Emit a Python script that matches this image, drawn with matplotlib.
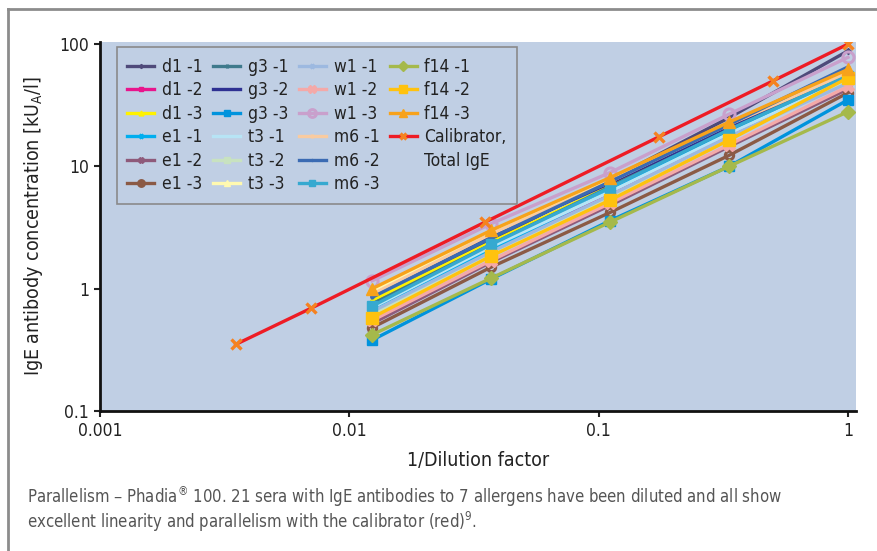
import matplotlib
matplotlib.use("Agg")
import matplotlib.pyplot as plt
from matplotlib.lines import Line2D
from matplotlib.ticker import FixedLocator, FixedFormatter, NullLocator

plt.rcParams['font.family'] = ['DejaVu Sans']
plt.rcParams['font.stretch'] = 'condensed'

# dilution steps of the sera (1/81 ... 1) and of the calibrator
sample_x = [1 / 81, 1 / 27, 1 / 9, 1 / 3, 1]
calib_x = [0.0035, 0.007, 0.035, 0.175, 0.5, 1]
calib_y = [0.35, 0.69, 3.5, 17.5, 50, 100]

labels = ['d1 -1', 'd1 -2', 'd1 -3', 'e1 -1', 'e1 -2', 'e1 -3',
          'g3 -1', 'g3 -2', 'g3 -3', 't3 -1', 't3 -2', 't3 -3',
          'w1 -1', 'w1 -2', 'w1 -3', 'm6 -1', 'm6 -2', 'm6 -3',
          'f14 -1', 'f14 -2', 'f14 -3']

d1_1 = [0.78, 2.5, 7.8, 25, 88]
d1_2 = [0.66, 2.0, 6.0, 18, 50]
d1_3 = [0.80, 2.4, 6.9, 20, 56]
e1_1 = [0.68, 2.1, 6.3, 19, 55]
e1_2 = [0.52, 1.65, 4.8, 14.5, 43]
e1_3 = [0.48, 1.5, 4.2, 12.3, 40]
g3_1 = [0.75, 2.3, 6.8, 20, 57]
g3_2 = [0.87, 2.7, 7.3, 21, 62]
g3_3 = [0.38, 1.2, 3.6, 10, 35]
t3_1 = [0.70, 2.2, 6.2, 18.5, 52]
t3_2 = [0.62, 1.9, 5.7, 17, 50]
t3_3 = [0.95, 2.9, 7.8, 22.5, 60]
w1_1 = [0.65, 2.0, 5.8, 17.5, 48]
w1_2 = [0.55, 1.7, 5.0, 15, 45]
w1_3 = [1.16, 3.4, 8.9, 26.7, 78]
m6_1 = [0.90, 2.8, 7.5, 22, 58]
m6_2 = [0.85, 2.6, 7.5, 22, 65]
m6_3 = [0.72, 2.3, 6.7, 20, 55]
f14_1 = [0.42, 1.22, 3.5, 10, 28]
f14_2 = [0.58, 1.85, 5.3, 16.4, 53]
f14_3 = [1.00, 3.0, 8.1, 23, 62]

series = [d1_1, d1_2, d1_3, e1_1, e1_2, e1_3, g3_1, g3_2, g3_3,
          t3_1, t3_2, t3_3, w1_1, w1_2, w1_3, m6_1, m6_2, m6_3,
          f14_1, f14_2, f14_3]

colors = ['#4f4a7a', '#e8158c', '#fff200', '#00aeef', '#8e5a7a', '#8b5a45',
          '#3f7a8c', '#2e3192', '#0093dd', '#b7e4f5', '#c8e2c0', '#fff9b0',
          '#9db9e0', '#f4a9a8', '#c9a0cc', '#f9cba0', '#3b6bb3', '#36a9d0',
          '#a5b94b', '#ffc20e', '#f7a21b']
# (marker, size, open)
styles = [('D', 3, False), ('s', 4, False), ('^', 5, False), ('x', 5, False),
          ('X', 6, False), ('o', 6, True), ('+', 4, False), ('.', 3, False),
          ('s', 7, False), ('.', 3, False), ('s', 6, False), ('^', 6, False),
          ('x', 4, False), ('X', 8, False), ('o', 8, True), ('+', 4, False),
          ('.', 4, False), ('s', 7, False), ('D', 7, False), ('s', 8, False),
          ('^', 9, False)]

BG = '#c0cfe4'

fig = plt.figure(figsize=(8.78, 5.51), dpi=100)
ax = fig.add_axes([100 / 878, 1 - 411 / 551, 756 / 878, 369 / 551])
ax.set_facecolor(BG)

for vals, lab, col, (mk, ms, hollow) in zip(series, labels, colors, styles):
    ax.plot(sample_x, vals, color=col, lw=2.4, marker=mk, ms=ms,
            mfc='none' if hollow else col, mec=col,
            mew=2.2 if (hollow or mk in 'x+') else 1, label=lab)

ax.plot(calib_x, calib_y, color='#ee1c25', lw=2.4, marker='x', ms=7,
        mec='#f58220', mew=2.4, label='Calibrator,', zorder=5)

ax.set_xscale('log')
ax.set_yscale('log')
ax.set_xlim(0.001, 1.077)
ax.set_ylim(0.1, 104)

ax.xaxis.set_major_locator(FixedLocator([0.001, 0.01, 0.1, 1]))
ax.xaxis.set_major_formatter(FixedFormatter(['0.001', '0.01', '0.1', '1']))
ax.yaxis.set_major_locator(FixedLocator([0.1, 1, 10, 100]))
ax.yaxis.set_major_formatter(FixedFormatter(['0.1', '1', '10', '100']))
ax.xaxis.set_minor_locator(NullLocator())
ax.yaxis.set_minor_locator(NullLocator())
ax.tick_params(axis='both', direction='out', length=4, width=1.5,
               labelsize=12.5, colors='#222222', pad=4)

for s in ['top', 'right']:
    ax.spines[s].set_visible(False)
for s in ['left', 'bottom']:
    ax.spines[s].set_linewidth(2)
    ax.spines[s].set_color('#111111')

ax.set_xlabel('1/Dilution factor', fontsize=14, color='#222222', labelpad=8)
ax.set_ylabel(r'IgE antibody concentration [kU$_\mathregular{A}$/l]',
              fontsize=14, color='#222222', labelpad=10)

# second line of the calibrator label as its own entry, so columns go 6/6/6/5
handles, leg_labels = ax.get_legend_handles_labels()
handles.append(Line2D([], [], color='none'))
leg_labels.append('Total IgE')

leg = ax.legend(handles, leg_labels, ncol=4, loc='upper left',
                bbox_to_anchor=(0.0225, 0.986),
                borderaxespad=0, fontsize=12.5, handlelength=1.55,
                handletextpad=0.45, columnspacing=0.6, labelspacing=0.32,
                frameon=True, fancybox=False, facecolor=BG, markerscale=0.7,
                edgecolor='#8a8a8a', framealpha=1, borderpad=0.6)
leg.get_frame().set_linewidth(1.2)
for t in leg.get_texts():
    t.set_color('#222222')

# frame round the figure (top and left only)
fig.add_artist(Line2D([8 / 878, 1], [1 - 9 / 551, 1 - 9 / 551],
                      color='#8c8c8c', lw=2))
fig.add_artist(Line2D([8 / 878, 8 / 878], [0, 1 - 9 / 551],
                      color='#8c8c8c', lw=2))

fig.text(27 / 878, 1 - 503 / 551,
         r'Parallelism – Phadia$^\mathregular{®}$ 100. 21 sera with IgE antibodies '
         'to 7 allergens have been diluted and all show',
         fontsize=12, color='#555555')
fig.text(27 / 878, 1 - 528 / 551,
         r'excellent linearity and parallelism with the calibrator (red)$^\mathregular{9}$.',
         fontsize=12, color='#555555')

fig.savefig('out.png', dpi=100)
